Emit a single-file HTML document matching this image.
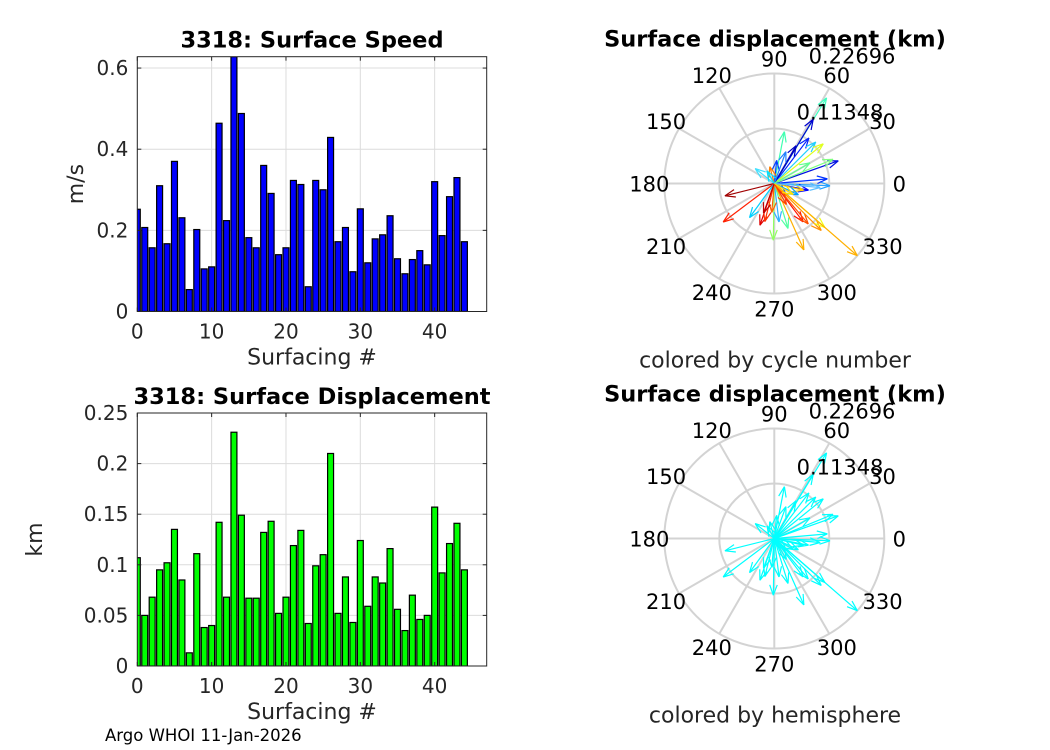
<!DOCTYPE html>
<html><head><meta charset="utf-8"><style>
body{margin:0;background:#fff;}
svg{display:block;font-family:"DejaVu Sans","Liberation Sans",sans-serif;}
</style></head><body>
<svg id="fig" width="1050" height="750" viewBox="0 0 1050 750">
<rect width="1050" height="750" fill="#fff"/>
<g id="g1"></g>
<g id="g2"></g>
<g id="p1"></g>
<g id="p2"></g>
<text x="105" y="741" font-size="16.5" fill="#000">Argo WHOI 11-Jan-2026</text>
</svg>
<script>
const speedValues=[0.252,0.207,0.157,0.310,0.167,0.370,0.231,0.054,0.202,0.105,0.110,0.464,0.224,0.628,0.488,0.182,0.157,0.360,0.291,0.140,0.157,0.323,0.313,0.061,0.323,0.300,0.429,0.172,0.207,0.098,0.253,0.120,0.179,0.189,0.236,0.130,0.093,0.128,0.150,0.115,0.320,0.187,0.283,0.330,0.172];
const dispValues=[0.107,0.050,0.068,0.095,0.102,0.135,0.085,0.013,0.111,0.038,0.040,0.142,0.068,0.231,0.149,0.067,0.067,0.132,0.143,0.052,0.068,0.119,0.134,0.042,0.099,0.110,0.210,0.052,0.088,0.043,0.124,0.059,0.088,0.082,0.116,0.056,0.035,0.070,0.046,0.050,0.157,0.092,0.121,0.141,0.095];
const xTicks=[0,10,20,30,40];
const speedTicks=[0,0.2,0.4,0.6];
const speedTickLabels=["0","0.2","0.4","0.6"];
const dispTicks=[0,0.05,0.1,0.15,0.2,0.25];
const dispTickLabels=["0","0.05","0.1","0.15","0.2","0.25"];
const arrowAngles=[58.6,58.8,52.8,45,39,79,19.5,22.4,84,142,105,-2.4,-11,-13,-44,194,217,234,251,256,269,277,287,294,307,310,315,319,319,5,-5,60,70,265,300,-25,250,330,120,30];
const arrowMags=[0.207,0.155,0.118,0.121,0.130,0.109,0.140,0.131,0.048,0.050,0.036,0.115,0.072,0.062,0.035,0.105,0.132,0.087,0.091,0.081,0.117,0.080,0.097,0.150,0.099,0.109,0.137,0.138,0.227,0.110,0.095,0.090,0.070,0.060,0.050,0.055,0.065,0.045,0.030,0.085];
const arrowColors=["#40ffc0","#0000d0","#0020ff","#20d0ff","#e0ff20","#40ffb0","#0010e0","#80ff80","#0040ff","#40e0ff","#ff8000","#20a0ff","#0000ff","#ffd000","#0050ff","#a00000","#ff2000","#00d0ff","#e00000","#ff3000","#90ff60","#30b0ff","#50ffa0","#ffb000","#ff1000","#ff5000","#ff9000","#f0ff10","#ffb000","#0030ff","#60c0ff","#0000c0","#2080ff","#ff6000","#ff4000","#00a0ff","#c00000","#ffe000","#00e0ff","#60ff90"];
const NS="http://www.w3.org/2000/svg";
function mk(p,tag,a,txt){const e=document.createElementNS(NS,tag);for(const k in a)e.setAttribute(k,a[k]);if(txt!==undefined)e.textContent=txt;p.appendChild(e);return e;}

function barChart(gid,vals,ticks,labels,ymax,top,bottom,color,title,ylab,ylabX){
  const g=document.getElementById(gid);
  const L=137.3,R=486.7,xmax=47;
  const X=v=>L+(v/xmax)*(R-L);
  const Y=v=>bottom-(v/ymax)*(bottom-top);
  const clip=gid+"clip";
  const d=mk(g,"clipPath",{id:clip});mk(d,"rect",{x:L,y:top,width:R-L,height:bottom-top});
  xTicks.forEach(t=>{const l=mk(g,"line",{x1:X(t),x2:X(t),y1:top,y2:bottom,stroke:"#dcdcdc","stroke-width":1});
    });
  ticks.forEach(t=>{const l=mk(g,"line",{x1:L,x2:R,y1:Y(t),y2:Y(t),stroke:"#dcdcdc","stroke-width":1});
    });
  const bg=mk(g,"g",{"clip-path":"url(#"+clip+")"});
  vals.forEach((v,i)=>{const r=mk(bg,"rect",{x:X(i-0.4),y:Y(v),width:X(0.8)-X(0),height:Y(0)-Y(v),fill:color,stroke:"#000","stroke-width":1.2});
    });
  mk(g,"rect",{x:L,y:top,width:R-L,height:bottom-top,fill:"none",stroke:"#262626","stroke-width":1});
  xTicks.forEach(t=>{mk(g,"line",{x1:X(t),x2:X(t),y1:bottom,y2:bottom-4,stroke:"#262626"});mk(g,"line",{x1:X(t),x2:X(t),y1:top,y2:top+4,stroke:"#262626"});
    const tx=mk(g,"text",{x:X(t),y:bottom+27,"font-size":20,"text-anchor":"middle",fill:"#262626"},String(t));
    });
  ticks.forEach((t,i)=>{mk(g,"line",{x1:L,x2:L+4,y1:Y(t),y2:Y(t),stroke:"#262626"});mk(g,"line",{x1:R,x2:R-4,y1:Y(t),y2:Y(t),stroke:"#262626"});
    const tx=mk(g,"text",{x:L-9,y:Y(t)+7,"font-size":20,"text-anchor":"end",fill:"#262626"},labels[i]);
    });
  const ti=mk(g,"text",{x:(L+R)/2,y:top-9,"font-size":22.5,"font-weight":"bold","text-anchor":"middle",fill:"#000"},title);
  
  const xl=mk(g,"text",{x:(L+R)/2,y:bottom+53,"font-size":22,"text-anchor":"middle",fill:"#262626"},"Surfacing #");
  
  const yl=mk(g,"text",{x:ylabX,y:(top+bottom)/2,"font-size":22,"text-anchor":"middle",fill:"#262626",transform:`rotate(-90 ${ylabX} ${(top+bottom)/2})`},ylab);
  
}
barChart("g1",speedValues,speedTicks,speedTickLabels,0.628,56.7,311.5,"#0000ff","3318: Surface Speed","m/s",83);
barChart("g2",dispValues,dispTicks,dispTickLabels,0.25,413,666,"#00ff00","3318: Surface Displacement","km",42);

function polar(gid,cx,cy,single,caption){
  const g=document.getElementById(gid);
  const R=110,rmax=0.22696;
  const P=(a,r)=>[cx+Math.cos(a*Math.PI/180)*r/rmax*R, cy-Math.sin(a*Math.PI/180)*r/rmax*R];
  [0.5,1].forEach(f=>mk(g,"circle",{cx:cx,cy:cy,r:R*f,fill:"none",stroke:"#d3d3d3","stroke-width":2}));
  for(let a=0;a<360;a+=30){const [x,y]=P(a,rmax);mk(g,"line",{x1:cx,y1:cy,x2:x,y2:y,stroke:"#d3d3d3","stroke-width":2});
    const lx=cx+Math.cos(a*Math.PI/180)*(R+15),ly=cy-Math.sin(a*Math.PI/180)*(R+15);
    const t=mk(g,"text",{x:lx,y:ly+8,"font-size":21,"text-anchor":"middle",fill:"#000"},String(a));
    }
  arrowAngles.forEach((a,i)=>{const m=arrowMags[i];const [x,y]=P(a,m);const c=single?"#00ffff":arrowColors[i];
    const ar=mk(g,"g",{stroke:c,"stroke-width":1.2,fill:"none"});
    
    mk(ar,"line",{x1:cx,y1:cy,x2:x,y2:y});
    const th=Math.atan2(y-cy,x-cx),h=11;
    [0.35,-0.35].forEach(s=>mk(ar,"line",{x1:x,y1:y,x2:x-h*Math.cos(th+s),y2:y-h*Math.sin(th+s)}));});
  const r1=mk(g,"text",{x:852,y:cy-120,"font-size":21,"text-anchor":"middle",fill:"#000"},"0.22696");
  
  const r2=mk(g,"text",{x:840,y:cy-64,"font-size":21,"text-anchor":"middle",fill:"#000"},"0.11348");
  
  const ti=mk(g,"text",{x:775,y:cy-137,"font-size":22.5,"font-weight":"bold","text-anchor":"middle",fill:"#000"},"Surface displacement (km)");
  
  const cp=mk(g,"text",{x:775,y:cy+184,"font-size":22,"text-anchor":"middle",fill:"#262626"},caption);
  
}
polar("p1",774.3,183.5,false,"colored by cycle number");
polar("p2",774.3,538.5,true,"colored by hemisphere");
</script>
</body></html>
